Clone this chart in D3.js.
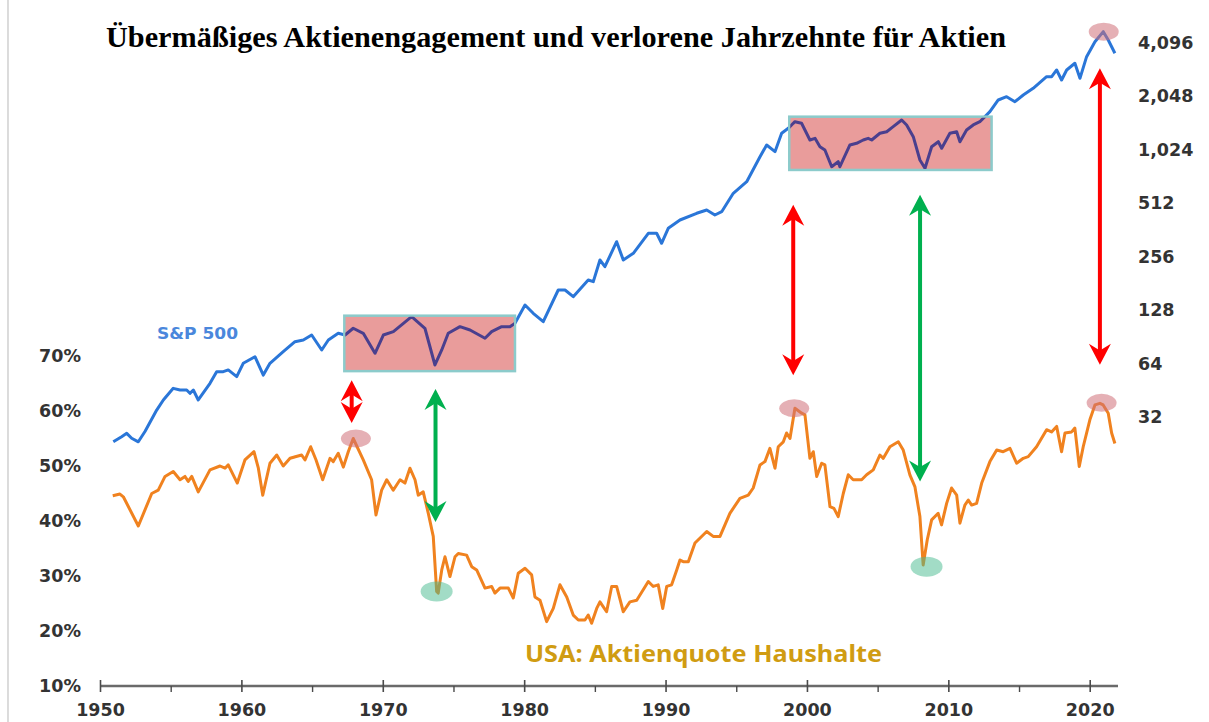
<!DOCTYPE html>
<html>
<head>
<meta charset="utf-8">
<script src="https://cdn.jsdelivr.net/npm/d3@7"></script>
<style>
    body { margin: 0; background: #fff; }
    svg { display: block; }
</style>
</head>
<body>
<svg id="chart" width="1209" height="722"></svg>
<script>
// household equity share (left axis, percent)
var quotaYears = [
    1950.90,1951.41,1951.65,1952.71,1953.66,1954.12,1954.60,1955.18,1955.66,1956.01,
    1956.24,1956.49,1956.95,1957.78,1958.49,1958.84,1959.07,1959.71,1960.25,1960.89,
    1961.20,1961.51,1962.02,1962.50,1962.96,1963.44,1964.26,1964.50,1964.90,1965.28,
    1965.75,1966.27,1966.50,1966.85,1967.21,1967.56,1967.91,1968.62,1969.21,1969.52,
    1969.92,1970.28,1970.74,1971.22,1971.57,1971.92,1972.28,1972.51,1972.86,1973.22,
    1973.57,1973.81,1973.92,1974.17,1974.40,1974.75,1975.11,1975.34,1975.93,1976.29,
    1976.64,1977.23,1977.70,1977.93,1978.29,1978.88,1979.23,1979.58,1980.06,1980.53,
    1980.76,1981.12,1981.59,1982.06,1982.53,1983.01,1983.47,1983.83,1984.30,1984.53,
    1984.77,1985.13,1985.36,1985.83,1986.19,1986.54,1987.01,1987.48,1987.96,1988.42,
    1988.78,1989.13,1989.48,1989.80,1990.08,1990.43,1990.79,1991.02,1991.25,1991.61,
    1992.08,1992.91,1993.37,1993.85,1994.55,1995.26,1995.85,1996.20,1996.68,1997.03,
    1997.38,1997.74,1997.97,1998.33,1998.56,1998.80,1999.15,1999.63,1999.86,2000.21,
    2000.45,2000.69,2001.04,2001.27,2001.63,2001.91,2002.21,2002.57,2002.92,2003.27,
    2003.87,2004.22,2004.69,2005.16,2005.40,2005.87,2006.46,2006.81,2007.28,2007.64,
    2007.99,2008.22,2008.51,2008.82,2009.28,2009.52,2009.88,2010.23,2010.59,2010.82,
    2011.17,2011.41,2011.65,2012.00,2012.36,2012.94,2013.42,2013.88,2014.36,2014.83,
    2015.30,2015.65,2016.24,2016.95,2017.30,2017.66,2018.01,2018.25,2018.72,2018.95,
    2019.26,2019.54,2020.01,2020.37,2020.72,2020.95,2021.31,2021.55,2021.78
];
var quotaPct = [
    44.6,44.9,44.4,39.1,45.0,45.6,48.1,49.0,47.5,48.1,
    47.2,48.1,45.3,49.3,50.0,49.6,50.2,46.9,51.1,52.6,
    49.6,44.7,50.5,52.0,50.0,51.4,52.0,51.1,53.5,51.1,
    47.5,51.4,50.8,52.3,49.8,52.6,55.0,51.1,47.5,41.1,
    45.6,47.5,45.6,47.5,46.9,49.6,47.5,44.7,45.3,41.4,
    37.2,27.2,26.9,31.1,33.5,29.9,33.5,34.1,33.8,31.7,
    31.1,27.8,28.1,26.9,27.8,27.8,26.0,30.5,31.4,30.2,
    26.2,25.6,21.7,24.1,28.4,26.2,22.9,22.0,22.0,22.9,
    21.4,24.1,25.3,23.5,28.1,28.1,23.5,25.3,25.6,27.5,
    29.0,28.1,28.4,24.1,28.1,28.4,31.1,32.9,32.6,32.6,
    36.0,38.1,37.2,37.2,41.4,44.1,44.7,46.0,50.2,50.8,
    53.2,49.6,53.5,54.4,56.0,55.0,60.5,59.6,59.3,51.4,
    52.6,48.1,50.5,50.2,42.6,42.3,40.8,45.0,48.4,47.5,
    47.5,48.4,49.3,52.0,51.4,53.5,54.4,52.9,48.4,46.2,
    40.8,32.0,36.6,40.2,41.4,39.3,43.2,46.0,44.7,39.6,
    42.9,43.8,42.9,43.2,46.9,50.8,52.9,52.6,53.2,50.5,
    51.4,51.7,53.5,56.6,56.2,57.2,52.6,56.0,56.2,56.9,
    49.9,53.5,58.4,61.1,61.4,61.1,59.6,56.0,54.1
];

// s&p 500 index (right axis, log2)
var spxYears = [
    1950.94,1951.53,1951.89,1952.24,1952.71,1953.18,1954.01,1954.48,1955.18,1955.66,
    1956.13,1956.36,1956.60,1956.95,1957.78,1958.25,1958.72,1959.07,1959.67,1960.13,
    1960.96,1961.55,1962.02,1962.96,1963.79,1964.38,1964.97,1965.68,1966.15,1966.85,
    1967.33,1967.91,1968.62,1969.45,1970.04,1970.75,1972.04,1972.98,1973.69,1974.17,
    1974.63,1975.46,1976.17,1977.23,1977.70,1978.41,1978.99,1979.35,1980.06,1980.64,
    1981.35,1982.41,1982.89,1983.47,1984.53,1984.89,1985.36,1985.71,1986.54,1987.01,
    1987.72,1988.78,1989.37,1989.72,1990.19,1991.02,1992.20,1992.91,1993.49,1993.97,
    1994.79,1995.74,1996.68,1997.15,1997.74,1998.21,1998.68,1999.03,1999.15,1999.62,
    2000.21,2000.57,2000.92,2001.27,2001.75,2002.21,2002.33,2003.04,2003.51,2003.98,
    2004.33,2004.58,2005.16,2005.64,2006.10,2006.70,2007.05,2007.52,2007.99,2008.35,
    2008.82,2009.29,2009.53,2010.11,2010.59,2010.82,2011.29,2011.76,2012.23,2012.94,
    2013.53,2014.12,2014.71,2015.30,2016.00,2016.95,2017.31,2017.66,2018.01,2018.37,
    2018.95,2019.31,2019.78,2020.37,2020.96,2021.31,2021.78
];
var spxValues = [
    23.2,24.8,25.9,24.3,23.2,26.5,35.0,39.9,46.4,45.4,
    45.4,43.5,45.4,39.9,49.5,57.6,57.6,58.9,54.0,64.2,
    69.9,55.1,64.2,74.6,84.9,86.8,92.6,76.3,86.8,94.7,
    92.6,101.1,94.7,73.1,92.6,96.7,117.5,101.1,62.8,76.3,
    94.7,103.2,98.8,88.8,96.7,103.2,103.2,107.8,136.7,122.7,
    110.1,166,166,152.2,189,184.9,244.9,224.6,310.5,244.9,
    267.2,346.3,346.3,304.2,369.4,411.3,448.7,468.2,439,458.2,
    581.6,676,934.6,1087.6,997.3,1265.7,1350.4,1441,1471,1441,
    1160,1186,1064,1019,820.8,876,820.8,1087.6,1112,1160,
    1186,1160,1266,1292,1379,1504,1410,1211,895.4,804.2,
    1064,1135,1042,1266,1292,1135,1321,1410,1471,1675,
    1949,2034,1907,2079,2268,2636,2636,2876,2526,2876,
    3137,2581,3417,4150,4726,4243,3571
];

var pctTicks = [10, 20, 30, 40, 50, 60, 70];
var spxTicks = [32, 64, 128, 256, 512, 1024, 2048, 4096];
var yearTicks = [1950, 1960, 1970, 1980, 1990, 2000, 2010, 2020];
var halfTicks = [1955, 1965, 1975, 1985, 1995, 2005, 2015];

// "lost decades": [from year, to year, low index, high index]
var lostDecades = [[1967.28, 1979.35, 58, 119], [1998.75, 2013.06, 787, 1570]];
// marked peaks / lows
var quotaPeaks = [[1968.10, 55.0], [1999.10, 60.5], [2020.84, 61.5]];
var spxPeaks = [[2020.99, 4726]];
var quotaLows = [[1973.81, 27.2], [2008.46, 31.7]];
// arrows: [year, upper end, lower end] in left-axis units, colour
var arrowsDef = [
    [1967.80, 65.6, 57.8, 'red'],
    [1973.73, 64.0, 39.8, 'green'],
    [1999.03, 97.5, 66.5, 'red'],
    [2008.00, 99.3, 47.2, 'green'],
    [2020.72, 122.3, 68.4, 'red']
];

var svg = d3.select('#chart');
var axisFont = "'DejaVu Sans', sans-serif";

var x = d3.scaleLinear().domain([1950, 2022]).range([100, 1118]);
var yPct = d3.scaleLinear().domain([10, 70]).range([686, 356]);
var ySpx = d3.scaleLog().base(2).domain([32, 4096]).range([417, 42.7]);

// thin border line on the left
svg.append('line')
    .attr('x1', 8).attr('x2', 8).attr('y1', 0).attr('y2', 722)
    .attr('stroke', '#c4c4c4').attr('stroke-width', 1.2);

// title
svg.append('text')
    .attr('x', 106).attr('y', 47)
    .attr('textLength', 900)
    .attr('lengthAdjust', 'spacingAndGlyphs')
    .attr('font-family', "'Liberation Serif', 'Times New Roman', serif")
    .attr('font-weight', 'bold')
    .attr('font-size', 29.5)
    .attr('fill', '#000')
    .text('Übermäßiges Aktienengagement und verlorene Jahrzehnte für Aktien');

function styleTicks(sel) {
    sel.attr('font-family', axisFont).attr('font-weight', 'bold')
        .attr('font-size', 17.5).attr('fill', '#333');
}

// left axis
var leftAxis = svg.append('g')
    .attr('transform', 'translate(81,0)')
    .call(d3.axisLeft(yPct).tickValues(pctTicks).tickSize(0).tickPadding(0)
        .tickFormat(function(d) { return d + '%'; }));
leftAxis.select('.domain').remove();
styleTicks(leftAxis.selectAll('text'));

// right axis
var rightAxis = svg.append('g')
    .attr('transform', 'translate(1138,0)')
    .call(d3.axisRight(ySpx).tickValues(spxTicks).tickSize(0).tickPadding(0)
        .tickFormat(d3.format(',')));
rightAxis.select('.domain').remove();
styleTicks(rightAxis.selectAll('text'));

// bottom axis with decade and half-decade ticks
var bottom = svg.append('g').attr('transform', 'translate(0,686)');
bottom.append('line')
    .attr('x1', x(1950)).attr('x2', x(2022))
    .attr('stroke', '#6a6a6a').attr('stroke-width', 2.5);
var major = bottom.append('g')
    .call(d3.axisBottom(x).tickValues(yearTicks).tickFormat(d3.format('d')).tickSize(6));
major.select('.domain').remove();
major.selectAll('.tick line')
    .attr('y1', -6).attr('y2', 6)
    .attr('stroke', '#4a4a4a').attr('stroke-width', 1.6);
major.selectAll('.tick text').attr('y', 18).attr('dy', '0.71em');
styleTicks(major.selectAll('.tick text'));
var minor = bottom.append('g')
    .call(d3.axisBottom(x).tickValues(halfTicks).tickFormat('').tickSize(6));
minor.select('.domain').remove();
minor.selectAll('.tick line').attr('stroke', '#4a4a4a').attr('stroke-width', 1.4);

// series
var quota = quotaYears.map(function(d, i) { return [d, quotaPct[i]]; });
var spx = spxYears.map(function(d, i) { return [d, spxValues[i]]; });

var quotaLine = d3.line()
    .x(function(d) { return x(d[0]); })
    .y(function(d) { return yPct(d[1]); });
var spxLine = d3.line()
    .x(function(d) { return x(d[0]); })
    .y(function(d) { return ySpx(d[1]); });

svg.append('path')
    .attr('d', spxLine(spx))
    .attr('fill', 'none').attr('stroke', '#2a76d8')
    .attr('stroke-width', 3).attr('stroke-linejoin', 'round');

svg.append('path')
    .attr('d', quotaLine(quota))
    .attr('fill', 'none').attr('stroke', '#f0821f')
    .attr('stroke-width', 3).attr('stroke-linejoin', 'round');

// boxes for the lost decades, line redrawn dark inside them
var defs = svg.append('defs');
lostDecades.forEach(function(b, i) {
    var bx = x(b[0]), by = ySpx(b[3]), bw = x(b[1]) - x(b[0]), bh = ySpx(b[2]) - ySpx(b[3]);
    svg.append('rect')
        .attr('x', bx).attr('y', by).attr('width', bw).attr('height', bh)
        .attr('fill', '#e99c9b').attr('stroke', '#8ccbcb').attr('stroke-width', 2.5);
    defs.append('clipPath').attr('id', 'box' + i)
        .append('rect')
        .attr('x', bx + 1).attr('y', by + 1).attr('width', bw - 2).attr('height', bh - 2);
    svg.append('path')
        .attr('d', spxLine(spx))
        .attr('clip-path', 'url(#box' + i + ')')
        .attr('fill', 'none').attr('stroke', '#4a3f8e')
        .attr('stroke-width', 3).attr('stroke-linejoin', 'round');
});

// marked peaks and lows
quotaPeaks.forEach(function(p) {
    svg.append('ellipse')
        .attr('cx', x(p[0])).attr('cy', yPct(p[1])).attr('rx', 15).attr('ry', 9)
        .attr('fill', '#cf6f78').attr('opacity', 0.55);
});
spxPeaks.forEach(function(p) {
    svg.append('ellipse')
        .attr('cx', x(p[0])).attr('cy', ySpx(p[1])).attr('rx', 15).attr('ry', 9)
        .attr('fill', '#cf6f78').attr('opacity', 0.55);
});
quotaLows.forEach(function(p) {
    svg.append('ellipse')
        .attr('cx', x(p[0])).attr('cy', yPct(p[1])).attr('rx', 16).attr('ry', 10)
        .attr('fill', '#46b98e').attr('opacity', 0.5);
});

// double headed arrows
var arrowColours = { red: '#ff0000', green: '#00b04f' };
function arrowHead(g, ax, tipY, dir, colour) {
    var L = 21, w = 11;
    g.append('path')
        .attr('d', 'M' + ax + ',' + tipY +
            'L' + (ax + w) + ',' + (tipY + dir * L) +
            'L' + ax + ',' + (tipY + dir * L * 0.68) +
            'L' + (ax - w) + ',' + (tipY + dir * L) + 'Z')
        .attr('fill', colour);
}
arrowsDef.forEach(function(a) {
    var g = svg.append('g');
    var ax = x(a[0]), top = yPct(a[1]), bot = yPct(a[2]);
    var colour = arrowColours[a[3]];
    g.append('line')
        .attr('x1', ax).attr('x2', ax)
        .attr('y1', top + 12).attr('y2', bot - 12)
        .attr('stroke', colour).attr('stroke-width', 4);
    arrowHead(g, ax, top, 1, colour);
    arrowHead(g, ax, bot, -1, colour);
});

// series labels
svg.append('text')
    .attr('x', 157).attr('y', 339)
    .attr('textLength', 81).attr('lengthAdjust', 'spacingAndGlyphs')
    .attr('font-family', axisFont).attr('font-weight', 'bold').attr('font-size', 16)
    .attr('fill', '#4a87dc')
    .text('S&P 500');

svg.append('text')
    .attr('x', 525).attr('y', 662)
    .attr('textLength', 357).attr('lengthAdjust', 'spacingAndGlyphs')
    .attr('font-family', "'Noto Sans', 'Open Sans', sans-serif")
    .attr('font-weight', 'bold').attr('font-size', 23)
    .attr('fill', '#d09c12')
    .text('USA: Aktienquote Haushalte');
</script>
</body>
</html>
